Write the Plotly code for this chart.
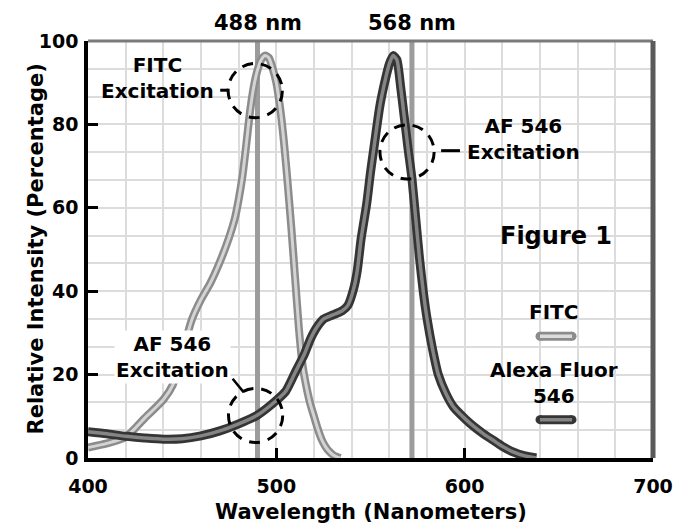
import plotly.graph_objects as go

# ---------------- data ----------------
fitc_wl = [400, 410, 420, 430, 440, 445, 450, 455, 460, 465, 470, 475, 478, 480, 482,
           484, 486, 488, 490, 492, 494, 496, 498, 500, 502, 504, 506, 508, 510, 512,
           514, 516, 518, 520, 522, 524, 526, 528, 530, 532, 534]
fitc_int = [2.5, 3.5, 5.0, 9.5, 14.0, 17.5, 25.0, 33.0, 38.0, 42.0, 47.0, 53.0, 57.5, 62.0, 67.5,
            75.0, 83.0, 89.0, 93.0, 95.5, 96.5, 96.0, 93.5, 90.0, 84.0, 76.0, 66.0, 55.0, 43.0, 31.0,
            22.0, 17.0, 13.0, 10.0, 7.0, 4.5, 2.8, 1.6, 0.8, 0.3, 0.0]

alexa_wl = [400, 410, 420, 430, 440, 450, 460, 470, 480, 490, 500, 505, 510, 515, 518,
            521, 525, 530, 535, 538, 541, 543, 545, 548, 550, 552, 555, 558, 560, 562,
            564, 566, 568, 570, 572, 574, 576, 578, 580, 583, 586, 590, 594, 600, 605,
            610, 615, 620, 626, 632, 638]
alexa_int = [6.3, 5.8, 5.2, 4.8, 4.5, 4.6, 5.3, 6.5, 8.2, 10.3, 13.8, 16.0, 20.5, 25.0, 28.4,
             31.0, 33.3, 34.3, 35.3, 36.6, 40.5, 45.0, 52.5, 61.0, 68.5, 75.0, 84.5, 91.0, 94.5, 96.5,
             95.5, 89.0, 81.5, 74.0, 67.0, 57.5, 48.0, 40.0, 33.5, 26.0, 20.0, 15.5, 12.3, 9.5, 7.5,
             5.8, 4.3, 2.8, 1.4, 0.5, 0.0]

laser_pos = [490, 572]
laser_labels = ["488 nm", "568 nm"]

x_ticks = [400, 500, 600, 700]
y_ticks = [0, 20, 40, 60, 80, 100]

# callout circles (centre wavelength, centre intensity)
circle_x = [488.8, 569.4, 489.0]
circle_y = [88.1, 73.4, 10.2]

FONT = "DejaVu Sans"

fig = go.Figure()

# excitation laser lines
for xp in laser_pos:
    fig.add_trace(go.Scatter(x=[xp, xp], y=[0, 100], mode="lines",
                             line=dict(color="#9c9c9c", width=5),
                             hoverinfo="skip", showlegend=False))

# tube-styled curves
def tube(x, y, outer, inner, wo, wi):
    fig.add_trace(go.Scatter(x=x, y=y, mode="lines",
                             line=dict(color=outer, width=wo, shape="spline", smoothing=0.6),
                             hoverinfo="skip", showlegend=False))
    fig.add_trace(go.Scatter(x=x, y=y, mode="lines",
                             line=dict(color=inner, width=wi, shape="spline", smoothing=0.6),
                             hoverinfo="skip", showlegend=False))

tube(fitc_wl, fitc_int, "#8c8c8c", "#d4d4d4", 8, 3)
tube(alexa_wl, alexa_int, "#353535", "#858585", 9, 3.5)

# legend swatches
def swatch(yv, outer, inner):
    fig.add_trace(go.Scatter(x=[640, 657], y=[yv, yv], mode="lines+markers",
                             line=dict(color=outer, width=9),
                             marker=dict(color=outer, size=9),
                             hoverinfo="skip", showlegend=False))
    fig.add_trace(go.Scatter(x=[640, 657], y=[yv, yv], mode="lines",
                             line=dict(color=inner, width=3.5),
                             hoverinfo="skip", showlegend=False))

swatch(29.2, "#8c8c8c", "#dcdcdc")
swatch(9.2, "#353535", "#858585")

shapes = []
rx, ry = 14.4, 6.5
for cx, cy in zip(circle_x, circle_y):
    shapes.append(dict(type="circle", xref="x", yref="y",
                       x0=cx - rx, x1=cx + rx, y0=cy - ry, y1=cy + ry,
                       line=dict(color="black", width=3, dash="11px,8px"), layer="above"))
# connector dashes
shapes.append(dict(type="line", xref="x", yref="y", x0=470.2, x1=474.0, y0=88.2, y1=88.2,
                   line=dict(color="black", width=3)))
shapes.append(dict(type="line", xref="x", yref="y", x0=587.5, x1=597.5, y0=73.7, y1=73.7,
                   line=dict(color="black", width=3)))
shapes.append(dict(type="line", xref="x", yref="y", x0=476.8, x1=482.6, y0=19.0, y1=15.8,
                   line=dict(color="black", width=2.5)))
# top and right frame
shapes.append(dict(type="line", xref="paper", yref="paper", x0=0, x1=1, y0=1, y1=1,
                   line=dict(color="#7a7a7a", width=3)))
shapes.append(dict(type="line", xref="paper", yref="paper", x0=1, x1=1, y0=0, y1=1,
                   line=dict(color="#5a5a5a", width=5)))

bold = dict(family=FONT, size=20, color="black", weight="bold")
annotations = []
for xp, lab in zip(laser_pos, laser_labels):
    annotations.append(dict(x=xp, y=1, xref="x", yref="paper", text=lab, showarrow=False,
                            xanchor="center", yanchor="bottom", yshift=4, font=dict(bold, size=21)))
annotations += [
    dict(x=436.7, y=91.2, xref="x", yref="y", text="FITC<br>Excitation", showarrow=False,
         font=bold, align="center"),
    dict(x=631.4, y=76.5, xref="x", yref="y", text="AF 546<br>Excitation", showarrow=False,
         font=bold, align="center"),
    dict(x=648.4, y=53.3, xref="x", yref="y", text="Figure 1", showarrow=False,
         font=dict(bold, size=24)),
    dict(x=647.3, y=34.9, xref="x", yref="y", text="FITC", showarrow=False, font=bold),
    dict(x=647.3, y=18.0, xref="x", yref="y", text="Alexa Fluor<br>546", showarrow=False,
         font=bold, align="center"),
    dict(x=444.7, y=24.2, xref="x", yref="y", text="AF 546<br>Excitation", showarrow=False,
         font=bold, align="center", bgcolor="white"),
    dict(x=0, y=0.5, xref="paper", yref="paper", text="Relative Intensity (Percentage)",
         textangle=-90, showarrow=False, xanchor="center", yanchor="middle", xshift=-53,
         font=dict(bold, size=21)),
    dict(x=0.5, y=0, xref="paper", yref="paper", text="Wavelength (Nanometers)",
         showarrow=False, xanchor="center", yanchor="middle", yshift=-54,
         font=dict(bold, size=21)),
]

grid = "#dcdcdc"
fig.update_layout(
    width=675, height=524,
    margin=dict(l=88, r=22, t=41, b=66, autoexpand=False),
    paper_bgcolor="white", plot_bgcolor="white",
    showlegend=False, hovermode=False,
    shapes=shapes, annotations=annotations,
    xaxis=dict(range=[400, 700], tickvals=x_ticks, showgrid=True, gridcolor=grid, gridwidth=2,
               minor=dict(dtick=20, tick0=400, showgrid=True, gridcolor=grid, gridwidth=2),
               showline=True, linecolor="black", linewidth=4, automargin=False,
               ticks="inside", ticklen=10, tickwidth=3, tickcolor="black",
               tickfont=dict(family=FONT, size=19, color="black", weight="bold"),
               ticklabelstandoff=8, zeroline=False, fixedrange=True),
    yaxis=dict(range=[0, 100], tickvals=y_ticks, showgrid=True, gridcolor=grid, gridwidth=2,
               minor=dict(dtick=20 / 3, tick0=0, showgrid=True, gridcolor=grid, gridwidth=2),
               showline=True, linecolor="black", linewidth=3.5, automargin=False,
               ticks="inside", ticklen=10, tickwidth=3, tickcolor="black",
               tickfont=dict(family=FONT, size=19, color="black", weight="bold"),
               ticklabelstandoff=2, zeroline=False, fixedrange=True),
)

fig.write_html("out.html", config={"displayModeBar": False},
               post_script="document.body.style.margin='0px';")
